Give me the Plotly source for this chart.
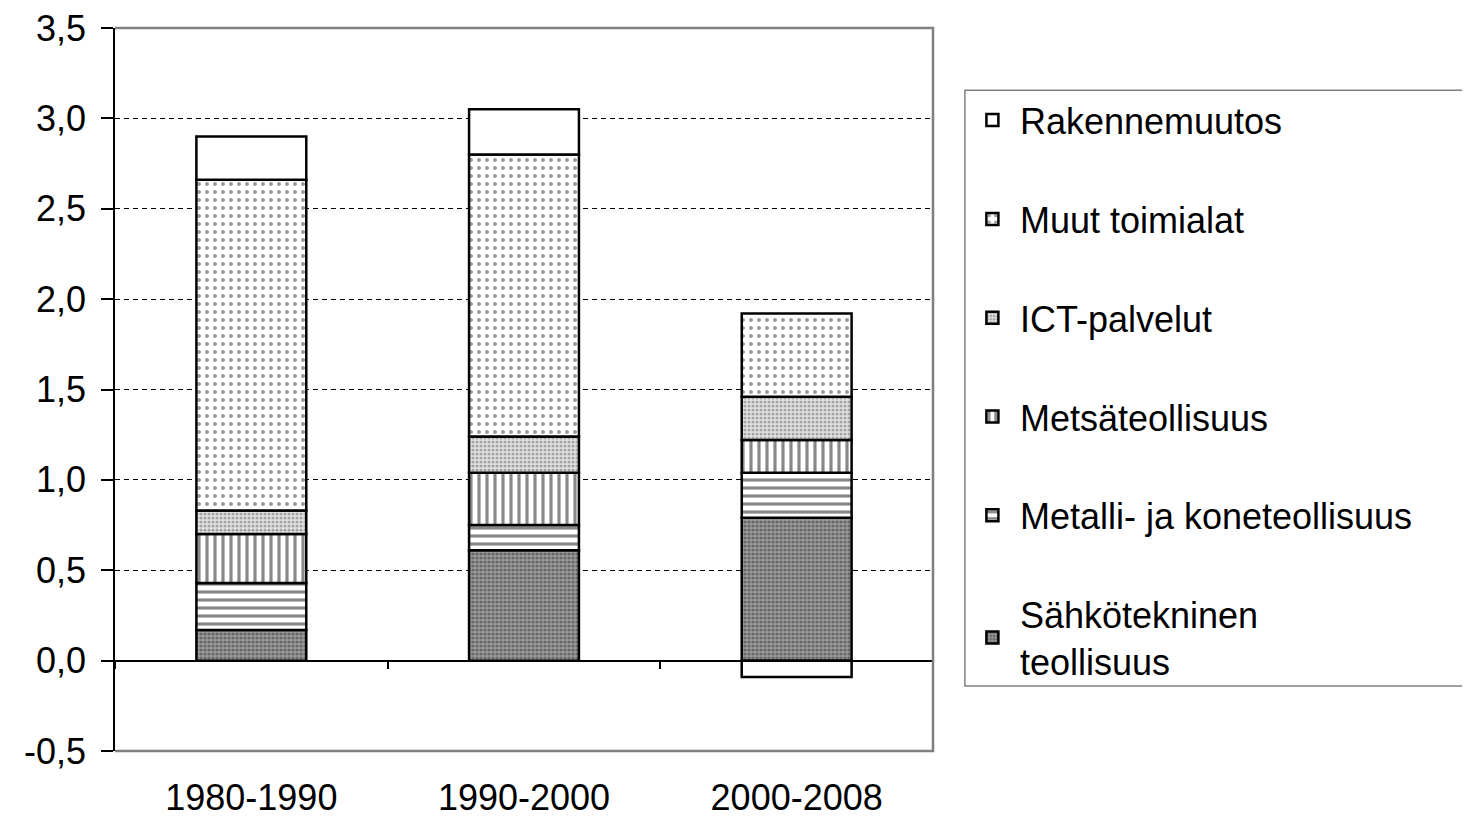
import plotly.graph_objects as go

categories = ["1980-1990", "1990-2000", "2000-2008"]
sahko = [0.17, 0.61, 0.79]
metalli = [0.26, 0.14, 0.25]
metsa = [0.27, 0.29, 0.18]
ict = [0.13, 0.20, 0.24]
muut = [1.83, 1.56, 0.46]
rakenne = [0.24, 0.25, -0.09]
y_ticks = [-0.5, 0.0, 0.5, 1.0, 1.5, 2.0, 2.5, 3.0, 3.5]
y_tick_text = ["-0,5", "0,0", "0,5", "1,0", "1,5", "2,0", "2,5", "3,0", "3,5"]

FONT = "Liberation Sans, Arial, sans-serif"

series = [
    ("Sähkötekninen<br>teollisuus", sahko, dict(shape=".", fgcolor="#333333", bgcolor="#9a9a9a", size=4, solidity=0.5)),
    ("Metalli- ja koneteollisuus", metalli, dict(shape="-", fgcolor="#111111", bgcolor="white", size=8, solidity=0.4)),
    ("Metsäteollisuus", metsa, dict(shape="|", fgcolor="#111111", bgcolor="white", size=8, solidity=0.4)),
    ("ICT-palvelut", ict, dict(shape=".", fgcolor="#666666", bgcolor="#e4e4e4", size=4, solidity=0.5)),
    ("Muut toimialat", muut, dict(shape=".", fgcolor="#333333", bgcolor="white", size=8, solidity=0.2)),
    ("Rakennemuutos", rakenne, None),
]

fig = go.Figure()
n = len(series)
for i, (name, vals, pat) in enumerate(series):
    marker = dict(color="white", line=dict(color="black", width=2.5))
    if pat is not None:
        marker["pattern"] = pat
    fig.add_trace(go.Bar(x=categories, y=vals, name=name, marker=marker,
                         legendgroup=f"g{i}", legendrank=n - i))

# invisible trace for the zero-line axis
fig.add_trace(go.Scatter(x=categories, y=[None] * 3, xaxis="x2", showlegend=False,
                         hoverinfo="skip"))

# page is offset by the browser's default body margin (~8px)
W, H = 1462, 810
ML, MR, MT, MB = 107, 537, 20, 67
PW, PH = W - ML - MR, H - MT - MB

fig.update_layout(
    width=W, height=H,
    barmode="relative", bargap=0.597,
    plot_bgcolor="white", paper_bgcolor="white",
    margin=dict(l=ML, r=MR, t=MT, b=MB),
    font=dict(family=FONT, size=36, color="black"),
    showlegend=True,
    legend=dict(x=1.039, y=0.914, xanchor="left", yanchor="top",
                traceorder="grouped", tracegroupgap=49,
                borderwidth=0, bgcolor="rgba(0,0,0,0)",
                font=dict(family=FONT, size=36, color="black"),
                itemwidth=45),
    xaxis=dict(showline=False, ticks="", showgrid=False, automargin=False,
               tickfont=dict(size=36), ticklabelstandoff=22),
    xaxis2=dict(overlaying="x", matches="x", anchor="free", position=0.125,
                showline=True, linecolor="black", linewidth=1.5,
                ticks="outside", tickson="boundaries", ticklen=8, tickwidth=1.5,
                tickcolor="black", showticklabels=False, showgrid=False),
    yaxis=dict(range=[-0.5, 3.5], tickvals=y_ticks, ticktext=y_tick_text,
               showline=True, linecolor="black", linewidth=1.5, automargin=False,
               ticks="outside", ticklen=12, tickwidth=1.5, tickcolor="black",
               ticklabelstandoff=8, ticklabeloverflow="allow",
               showgrid=True, gridcolor="black", gridwidth=1, griddash="5px,4px",
               zeroline=False, tickfont=dict(size=36)),
    shapes=[
        dict(type="path", xref="paper", yref="paper",
             path="M 0,1 L 1,1 L 1,0 L 0,0",
             line=dict(color="#808080", width=2.5), layer="above"),
        # legend frame (runs off the right edge as in the reference)
        dict(type="rect", xref="paper", yref="paper",
             x0=1.039, x1=(W - ML + 20) / PW, y0=(743 - 678) / PH, y1=0.914,
             line=dict(color="#808080", width=1.5), fillcolor="rgba(0,0,0,0)",
             layer="below"),
    ],
)

fig.write_html("out.html")
